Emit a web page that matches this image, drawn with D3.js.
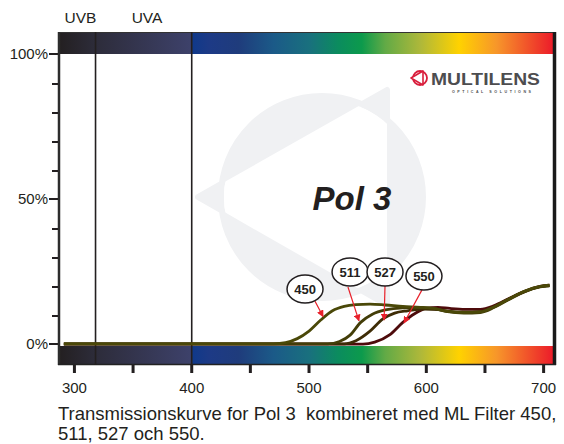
<!DOCTYPE html>
<html><head><meta charset="utf-8">
<script src="https://cdn.jsdelivr.net/npm/d3@7"></script>
<style>html,body{margin:0;padding:0;background:#fff;}svg{display:block;font-family:"Liberation Sans",Arial,sans-serif;}</style>
</head><body>
<svg id="c" width="564" height="444"></svg>
<script>
// ---- data ----
const xTicksMajor = [300, 400, 500, 600, 700];
const xTicksMinor = [350, 450, 550, 650];
const yTicksMajor = [0, 50, 100];
const yTicksMinor = [10, 20, 30, 40, 60, 70, 80, 90];
const yTickLabels = ["0%", "50%", "100%"];
const uvBounds = [318, 400];
const uvLabels = ["UVB", "UVA"];
const filterNames = ["450", "511", "527", "550"];
const f450 = [[291,0.4],[470,0.4],[480,0.8],[490,2.2],[500,4.8],[510,8.6],[520,11.8],[530,13.3],[540,13.9],[552,14.1],[565,13.8],[580,13.3],[595,13.0],[606,12.6],[618,11.6],[632,11.2],[646,11.4],[658,13.2],[670,15.8],[684,18.6],[697,20.2],[705,20.6]];
const f511 = [[291,0.4],[516,0.4],[526,1.2],[535,3.4],[544,7.8],[554,10.6],[565,12.1],[580,12.8],[595,12.9],[606,12.6],[618,11.5],[632,11.0],[646,11.2],[658,13.0],[670,15.6],[684,18.4],[697,20.0],[705,20.4]];
const f527 = [[291,0.4],[530,0.4],[540,1.5],[552,4.8],[563,9.0],[573,11.0],[584,11.8],[598,12.4],[610,12.2],[620,11.6],[632,11.3],[646,11.5],[658,13.2],[670,15.8],[684,18.5],[697,20.1],[705,20.5]];
const f550 = [[291,0.3],[546,0.3],[556,1.0],[569,3.6],[580,7.8],[590,10.8],[600,12.6],[610,13.0],[620,12.6],[633,12.3],[646,12.3],[658,13.6],[670,15.9],[684,18.5],[697,20.2],[705,20.6]];
// label bubble positions (wavelength, %) and arrow start / end points
const labelPos = [[496.6,19.3],[535,25.2],[564.8,25.2],[598,23.8]];
const arrowFrom = [[505,15.2],[533.2,20.0],[564.8,20.7],[596.3,19.0]];
const arrowTo = [[512,9.8],[542.6,8.3],[564,8.6],[581,7.6]];
const spectrumStops = [[286,"#231f20"],[318,"#2d2c3a"],[399,"#3d416a"],[401,"#10398a"],[415,"#1d3a86"],[440,"#1f3c7c"],[470,"#1b5a88"],[500,"#19707e"],[525,"#0b8c5e"],[545,"#0c9a4c"],[565,"#62aa46"],[595,"#aeb83a"],[628,"#ffd200"],[660,"#f7962a"],[708,"#ec1c2a"]];

// ---- layout ----
const svg = d3.select("#c");
const x = d3.scaleLinear().domain([286, 708]).range([58, 553]);
const y = d3.scaleLinear().domain([0, 100]).range([345, 55]);

// gradient
const defs = svg.append("defs");
const grad = defs.append("linearGradient").attr("id","spec").attr("gradientUnits","userSpaceOnUse")
  .attr("x1", x(286)).attr("x2", x(708)).attr("y1",0).attr("y2",0);
spectrumStops.forEach(s => grad.append("stop").attr("offset", (s[0]-286)/(708-286)).attr("stop-color", s[1]));
defs.append("marker").attr("id","arr").attr("viewBox","0 0 10 10").attr("refX",9).attr("refY",5)
  .attr("markerWidth",7).attr("markerHeight",7).attr("orient","auto-start-reverse").attr("markerUnits","userSpaceOnUse")
  .append("path").attr("d","M0,0 L10,5 L0,10 z").attr("fill","#e8202a");

// watermark
const cx = 322, cy = 197, r = 101;
const tri = [[198,197],[387,90],[387,305]];
const wm = d3.path();
wm.moveTo(cx + r, cy); wm.arc(cx, cy, r, 0, 2*Math.PI); wm.closePath();
wm.moveTo(tri[0][0], tri[0][1]); wm.lineTo(tri[1][0], tri[1][1]); wm.lineTo(tri[2][0], tri[2][1]); wm.closePath();
svg.append("path").attr("d", wm.toString()).attr("fill","#f0f1f3").attr("fill-rule","evenodd")
  .attr("stroke","#f0f1f3").attr("stroke-width",6).attr("stroke-linejoin","round");
svg.append("clipPath").attr("id","cc").append("circle").attr("cx",cx).attr("cy",cy).attr("r",r-3);
svg.append("path").attr("clip-path","url(#cc)")
  .attr("d", "M"+tri.map(p=>p.join(",")).join("L")+"Z").attr("fill","#fff");

// spectrum bars
svg.append("rect").attr("x", x(286)).attr("y", 32).attr("width", x(708)-x(286)).attr("height", 22).attr("fill","url(#spec)");
svg.append("rect").attr("x", x(286)).attr("y", 346).attr("width", x(708)-x(286)+3).attr("height", 19).attr("fill","url(#spec)");
svg.append("line").attr("x1",x(286)).attr("x2",x(708)).attr("y1",32.5).attr("y2",32.5).attr("stroke","#333").attr("stroke-width",1);

// frame
svg.append("line").attr("x1",59).attr("x2",59).attr("y1",32).attr("y2",365).attr("stroke","#2d2d2d").attr("stroke-width",2.5);
svg.append("line").attr("x1",554.5).attr("x2",554.5).attr("y1",32).attr("y2",365).attr("stroke","#1a1a1a").attr("stroke-width",3.5);
svg.append("line").attr("x1",58).attr("x2",556).attr("y1",364.5).attr("y2",364.5).attr("stroke","#222").attr("stroke-width",1.5);

// UV lines
svg.selectAll(".uv").data(uvBounds).enter().append("line")
  .attr("x1", d => x(d)).attr("x2", d => x(d)).attr("y1", 32).attr("y2", 365)
  .attr("stroke","#231f20").attr("stroke-width",1.6);
svg.selectAll(".uvl").data(uvLabels).enter().append("text")
  .attr("x", (d,i) => i===0 ? 80.5 : 147).attr("y", 23).attr("text-anchor","middle")
  .attr("font-size",15.5).attr("fill","#231f20").text(d => d);

// y ticks
svg.selectAll(".ymt").data(yTicksMinor).enter().append("line")
  .attr("x1",52).attr("x2",58).attr("y1",d=>y(d)).attr("y2",d=>y(d)).attr("stroke","#231f20").attr("stroke-width",2);
svg.selectAll(".yMt").data(yTicksMajor).enter().append("line")
  .attr("x1",49).attr("x2",58).attr("y1",d=>y(d)-1).attr("y2",d=>y(d)-1).attr("stroke","#231f20").attr("stroke-width",2);
svg.selectAll(".ytl").data(yTicksMajor).enter().append("text")
  .attr("x",48).attr("y",d=>y(d)+4).attr("text-anchor","end").attr("font-size",15).attr("fill","#231f20")
  .text((d,i)=>yTickLabels[i]);

// x ticks
svg.selectAll(".xmt").data(xTicksMinor.concat(xTicksMajor)).enter().append("line")
  .attr("x1",d=>x(d)).attr("x2",d=>x(d)).attr("y1",365).attr("y2",373).attr("stroke","#231f20").attr("stroke-width",3);
svg.selectAll(".xtl").data(xTicksMajor).enter().append("text")
  .attr("x",d=>x(d)).attr("y",393).attr("text-anchor","middle").attr("font-size",15).attr("fill","#231f20").text(d=>d);

// title
svg.append("text").attr("x",352).attr("y",210).attr("text-anchor","middle").attr("font-size",33)
  .attr("font-weight","bold").attr("font-style","italic").attr("fill","#231f20").text("Pol 3");

// logo
const lg = svg.append("g");
lg.append("circle").attr("cx",420).attr("cy",78).attr("r",7).attr("fill","none").attr("stroke","#d91e3c").attr("stroke-width",1.8);
lg.append("path").attr("d","M411,78 L423,71 L423,85 Z").attr("fill","#fff").attr("stroke","#d91e3c").attr("stroke-width",1.6).attr("stroke-linejoin","round");
lg.append("text").attr("x",431).attr("y",85).attr("font-size",17).attr("font-weight","bold").attr("fill","#4d4d4f")
  .attr("textLength",109).attr("lengthAdjust","spacingAndGlyphs").text("MULTILENS");
lg.append("text").attr("x",452).attr("y",93).attr("font-size",3.6).attr("font-weight","bold").attr("fill","#4d4d4f")
  .attr("textLength",79).attr("lengthAdjust","spacing").text("OPTICAL SOLUTIONS");

// curves
const line = d3.line().x(d=>x(d[0])).y(d=>y(d[1])).curve(d3.curveMonotoneX);
const series = [[f550,"#4e0b0c"],[f527,"#3e2c06"],[f511,"#433d08"],[f450,"#4a4808"]];
svg.selectAll(".crv").data(series).enter().append("path")
  .attr("d", d => line(d[0])).attr("fill","none").attr("stroke", d => d[1]).attr("stroke-width",2.8)
  .attr("stroke-linejoin","round");

// arrows
svg.selectAll(".arw").data(filterNames).enter().append("line")
  .attr("x1",(d,i)=>x(arrowFrom[i][0])).attr("y1",(d,i)=>y(arrowFrom[i][1]))
  .attr("x2",(d,i)=>x(arrowTo[i][0])).attr("y2",(d,i)=>y(arrowTo[i][1]))
  .attr("stroke","#e8202a").attr("stroke-width",1.2).attr("marker-end","url(#arr)");
// labels
const lb = svg.selectAll(".lb").data(filterNames).enter().append("g")
  .attr("transform",(d,i)=>`translate(${x(labelPos[i][0])},${y(labelPos[i][1])})`);
lb.append("ellipse").attr("rx",18).attr("ry",14).attr("fill","#fff").attr("stroke","#231f20").attr("stroke-width",1.5);
lb.append("text").attr("y",5).attr("text-anchor","middle").attr("font-size",13).attr("font-weight","bold").attr("fill","#231f20").text(d=>d);

// caption
svg.append("text").attr("x",58).attr("y",420).attr("font-size",18.5).attr("fill","#231f20")
  .attr("xml:space","preserve").text("Transmissionskurve for Pol 3  kombineret med ML Filter 450,");
svg.append("text").attr("x",58).attr("y",440).attr("font-size",18.5).attr("fill","#231f20").text("511, 527 och 550.");
</script>
</body></html>
